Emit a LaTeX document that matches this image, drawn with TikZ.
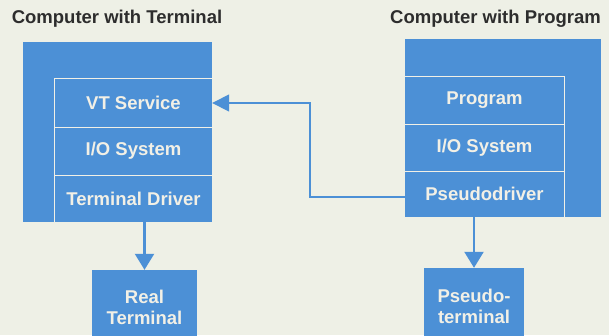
\documentclass[tikz,border=0pt]{standalone}
\usepackage{fontspec}
\setmainfont{Liberation Sans}
\usetikzlibrary{arrows.meta}
\definecolor{hpblue}{RGB}{76,144,214}
\definecolor{paper}{RGB}{238,240,230}
\definecolor{cream}{RGB}{242,240,230}
\definecolor{ink}{RGB}{45,45,45}

\begin{document}
\begin{tikzpicture}[x=1pt,y=-1pt,
    block/.style={fill=hpblue,inner sep=0pt},
    layer/.style={fill=hpblue,text=cream,inner sep=0pt,align=center,
      font=\bfseries\fontsize{18.5}{21}\selectfont},
    heading/.style={text=ink,inner sep=0pt,font=\bfseries\fontsize{18.5}{21}\selectfont},
    sep/.style={draw=cream,line width=1pt},
    flow/.style={draw=hpblue,line width=2.2pt,-{Triangle[length=16pt,width=19pt]}},
    link/.style={draw=hpblue,line width=1.6pt,-{Triangle[length=17pt,width=17pt]}}]
	\fill[paper] (0,0) rectangle (609,335);
	\clip (0,0) rectangle (609,335);

	% computer with terminal
	\node[heading] (ltitle) at (117,19) {Computer with Terminal};
	\node[block,minimum width=189,minimum height=180] (lcomp) at (117.5,132) {};
	\node[layer,minimum width=157,minimum height=48] (lvt) at (133.5,103) {VT Service};
	\node[layer,minimum width=157,minimum height=48] (lio) at (133.5,151) {I/O System};
	\node[layer,minimum width=157,minimum height=47] (ltd) at (133.5,198.5) {Terminal Driver};
	\draw[sep] (ltd.south west) -- (lvt.north west) -- (lvt.north east);
	\draw[sep] (lvt.south west) -- (lvt.south east);
	\draw[sep] (lio.south west) -- (lio.south east);
	\node[layer,minimum width=105,minimum height=74] (lterm) at (144.5,307) {Real\\Terminal};

	% computer with program
	\node[heading] (rtitle) at (495.5,19) {Computer with Program};
	\node[block,minimum width=196,minimum height=178] (rcomp) at (503,128) {};
	\node[layer,minimum width=159,minimum height=47] (rprog) at (484.5,100.5) {Program};
	\node[layer,minimum width=159,minimum height=47] (rio) at (484.5,147.5) {I/O System};
	\node[layer,minimum width=159,minimum height=46] (rpd) at (484.5,194) {Pseudodriver};
	\draw[sep] (rprog.north west) -- (rprog.north east) -- (rpd.south east);
	\draw[sep] (rprog.south west) -- (rprog.south east);
	\draw[sep] (rio.south west) -- (rio.south east);
	\node[layer,minimum width=100,minimum height=76] (rterm) at (474,306) {Pseudo-\\terminal};

	\coordinate (turn) at (310,198);
	\draw[flow] (ltd.south -| lterm.north) -- (lterm.north);
	\draw[flow] (rpd.south -| rterm.north) -- (rterm.north);
	\draw[link] ([yshift=-3pt]rpd.west) -- ([yshift=-3pt]rpd.west -| turn) |- (lvt.east);
\end{tikzpicture}
\end{document}
